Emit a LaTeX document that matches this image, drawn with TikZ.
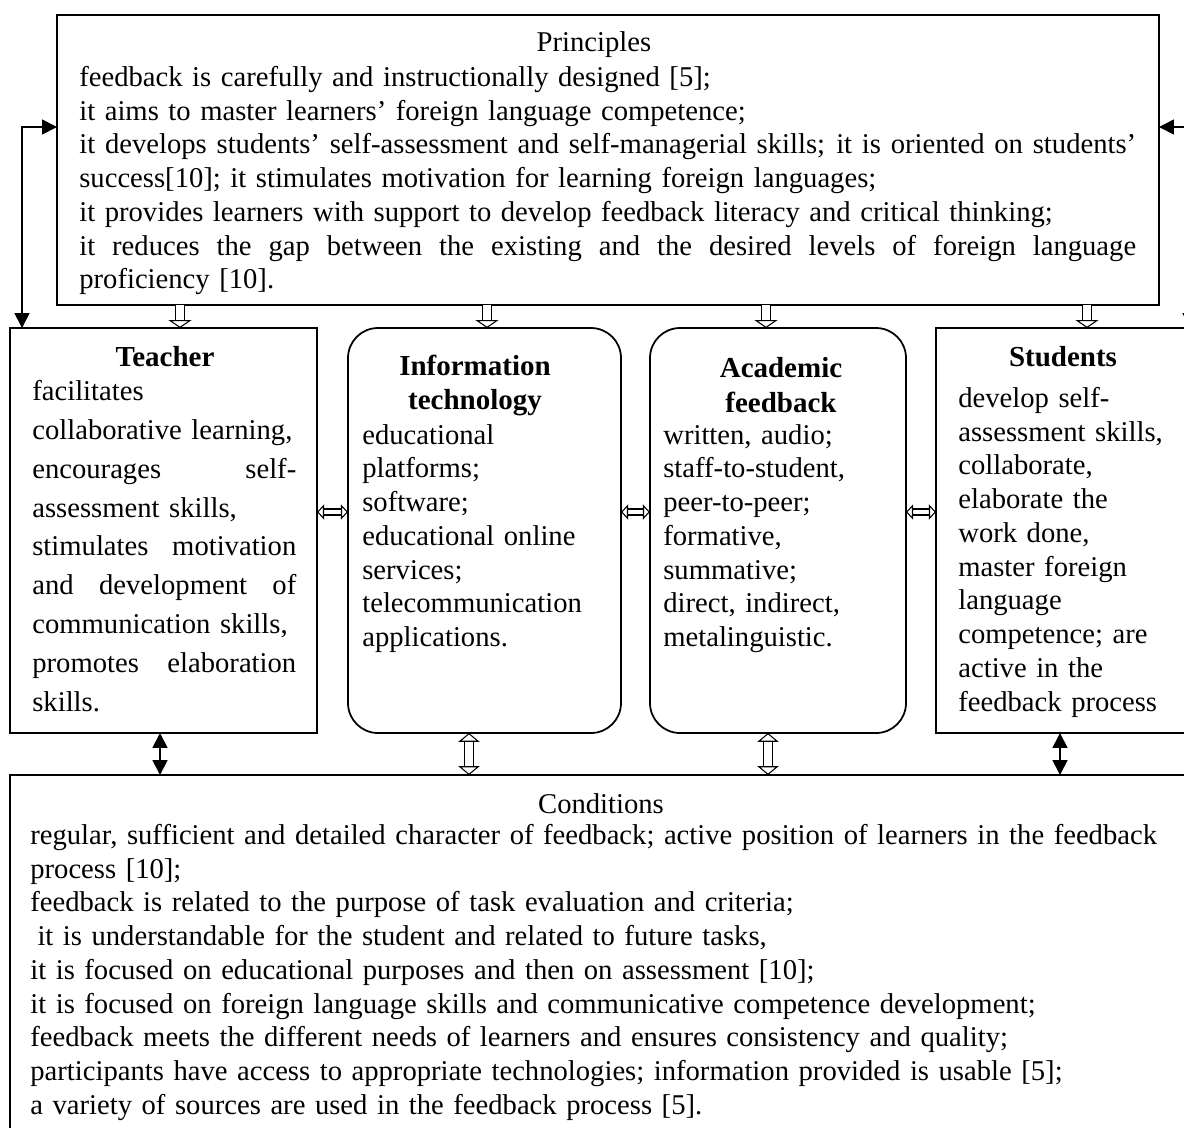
\documentclass[tikz,border=0pt]{standalone}
\usepackage{fontspec}
\setmainfont{Liberation Serif}
\usetikzlibrary{arrows.meta,fit,positioning}

\tikzset{
  box/.style={draw, line width=1pt, inner sep=0pt, outer sep=0pt},
  rbox/.style={box, rounded corners=0.6cm},
  txt/.style={inner sep=0pt, anchor=north west, align=left, font=\fontsize{16.3}{19.2}\selectfont},
  hd/.style={inner sep=0pt, font=\fontsize{16.3}{19.2}\selectfont},
  hdb/.style={inner sep=0pt, font=\fontsize{16.5}{19.9}\selectfont\bfseries},
  sol/.style={line width=1pt, {Triangle[length=8.5pt,width=8.5pt]}-{Triangle[length=8.5pt,width=8.5pt]}},
  holv/.style={double, double distance=4.5pt, line width=0.6pt, -{Triangle[open,length=4.5pt,width=13pt]}},
  holh/.style={double, double distance=2.8pt, line width=0.6pt, {Triangle[open,length=4pt,width=8.5pt]}-{Triangle[open,length=4pt,width=8.5pt]}},
  holb/.style={double, double distance=4pt, line width=0.6pt, {Triangle[open,length=5pt,width=12pt]}-{Triangle[open,length=5pt,width=12pt]}}
}
% justified single line
\newcommand{\jl}[2][\hsize]{\leavevmode\hbox to #1{\spaceskip=\fontdimen2\font plus 1fil minus .1em\relax #2}}

\begin{document}
\begin{tikzpicture}[x=0.02cm, y=-0.02cm]
\useasboundingbox (0,0) rectangle (1184,1127);
% frames
\node[box,  fit={(57,15) (1159,305)}]   (prin) {};
\node[box,  fit={(10,328) (317,733)}]   (tea)  {};
\node[rbox, fit={(348,328) (621,733)}]  (inf)  {};
\node[rbox, fit={(650,328) (906,733)}]  (aca)  {};
\node[box,  fit={(936,328) (1210,733)}] (stu)  {};
\node[box,  fit={(10,775) (1210,1140)}] (cnd)  {};

% principles
\node[hd] (prinH) at (594,45) {Principles};
\node[txt, text width=21.2cm] (prinT) at (79,66) {feedback is carefully and instructionally designed [5];\\
it aims to master learners’ foreign language competence;\\
\jl[21.14cm]{it develops students’ self-assessment and self-managerial skills; it is oriented on students’}\\
success[10]; it stimulates motivation for learning foreign languages;\\
it provides learners with support to develop feedback literacy and critical thinking;\\
\jl[21.14cm]{it reduces the gap between the existing and the desired levels of foreign language}\\
proficiency [10].};

% teacher
\node[hdb] (teaH) at (165,357) {Teacher};
\node[txt, text width=5.28cm, font=\fontsize{16.3}{22.1}\selectfont] (teaT) at (32,380) {facilitates\\
collaborative learning,\\
\jl{encourages self-}\\
assessment skills,\\
\jl{stimulates motivation}\\
\jl{and development of}\\
communication skills,\\
\jl{promotes elaboration}\\
skills.};

% information technology
\node[hdb, align=center] (infH) at (475,385.5) {Information\\technology};
\node[txt, text width=5cm] (infT) at (362,424) {educational\\
platforms;\\
software;\\
educational online\\
services;\\
telecommunication\\
applications.};

% academic feedback
\node[hdb, align=center] (acaH) at (781,385.5) {Academic\\feedback};
\node[txt, text width=4.8cm] (acaT) at (663,424) {written, audio;\\
staff-to-student,\\
peer-to-peer;\\
formative,\\
summative;\\
direct, indirect,\\
metalinguistic.};

% students
\node[hdb] (stuH) at (1063,357) {Students};
\node[txt, text width=4.8cm] (stuT) at (958,387) {develop self-\\
assessment skills,\\
collaborate,\\
elaborate the\\
work done,\\
master foreign\\
language\\
competence; are\\
active in the\\
feedback process};

% conditions
\node[hd] (cndH) at (601,804) {Conditions};
\node[txt, text width=22.8cm] (cndT) at (30,824) {regular, sufficient and detailed character of feedback; active position of learners in the feedback\\
process [10];\\
feedback is related to the purpose of task evaluation and criteria;\\
\hspace{0.25em}it is understandable for the student and related to future tasks,\\
it is focused on educational purposes and then on assessment [10];\\
it is focused on foreign language skills and communicative competence development;\\
feedback meets the different needs of learners and ensures consistency and quality;\\
participants have access to appropriate technologies; information provided is usable [5];\\
a variety of sources are used in the feedback process [5].};

% connectors
\coordinate (yA) at (0,127);
\coordinate (xL) at (22,0);
\coordinate (xR) at (1190,0);
\draw[sol] (prin.west |- yA) -| (tea.north -| xL);
\draw[sol] (prin.east |- yA) -| (stu.north -| xR);

\foreach \n/\x in {tea/180, inf/487, aca/766, stu/1087} {
  \coordinate (c) at (\x,0);
  \draw[holv] (prin.south -| c) -- (\n.north -| c);
}

\coordinate (yM) at (0,512);
\draw[holh] (tea.east |- yM) -- (inf.west |- yM);
\draw[holh] (inf.east |- yM) -- (aca.west |- yM);
\draw[holh] (aca.east |- yM) -- (stu.west |- yM);

\coordinate (b1) at (160,0);
\coordinate (b2) at (469,0);
\coordinate (b3) at (768,0);
\coordinate (b4) at (1060,0);
\draw[sol]  (tea.south -| b1) -- (cnd.north -| b1);
\draw[holb] (inf.south -| b2) -- (cnd.north -| b2);
\draw[holb] (aca.south -| b3) -- (cnd.north -| b3);
\draw[sol]  (stu.south -| b4) -- (cnd.north -| b4);
\end{tikzpicture}
\end{document}
